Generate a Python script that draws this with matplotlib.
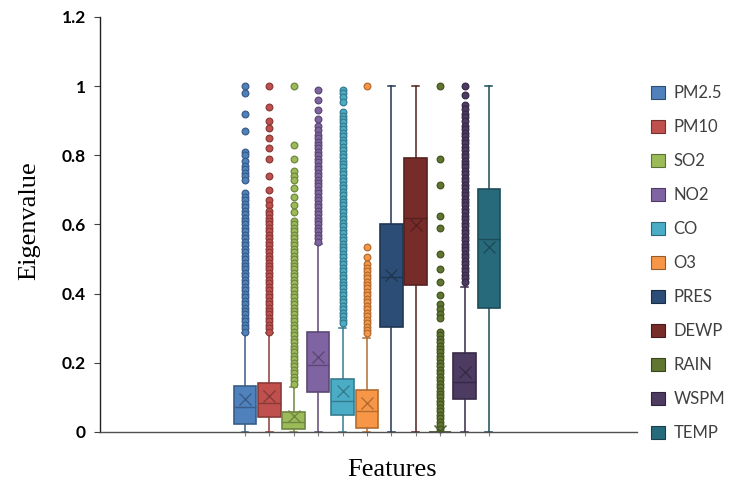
import matplotlib
matplotlib.use("Agg")
import matplotlib.pyplot as plt
import matplotlib.colors as mcolors
from matplotlib.patches import Patch

# --- Data ---
labels = ["PM2.5", "PM10", "SO2", "NO2", "CO", "O3",
          "PRES", "DEWP", "RAIN", "WSPM", "TEMP"]
colors = ["#4F81BD", "#C0504D", "#9BBB59", "#8064A2", "#4BACC6", "#F79646",
          "#2C4D75", "#772C2A", "#5F7530", "#4D3B62", "#276A7C"]

q1 = [0.023, 0.042, 0.009, 0.115, 0.049, 0.011, 0.303, 0.425, 0.000, 0.095, 0.359]
medians = [0.072, 0.085, 0.030, 0.194, 0.091, 0.062, 0.447, 0.618, 0.000, 0.146, 0.557]
q3 = [0.134, 0.141, 0.057, 0.288, 0.152, 0.121, 0.601, 0.791, 0.000, 0.229, 0.703]
means = [0.095, 0.105, 0.045, 0.216, 0.119, 0.083, 0.454, 0.599, 0.004, 0.174, 0.536]
whis_lo = [0.0, 0.0, 0.0, 0.0, 0.0, 0.0, 0.0, 0.0, 0.0, 0.0, 0.0]
whis_hi = [0.286, 0.286, 0.130, 0.545, 0.300, 0.272, 1.0, 1.0, 0.0, 0.420, 1.0]

pm25_out = [1.00, 0.98, 0.92, 0.87, 0.81, 0.80, 0.785, 0.77, 0.76, 0.75, 0.74, 0.73,
            0.69, 0.68, 0.67, 0.66, 0.65, 0.64, 0.63, 0.62, 0.61, 0.60,
            0.59, 0.58, 0.57, 0.56, 0.55, 0.54, 0.53, 0.52, 0.51, 0.50,
            0.49, 0.48, 0.47, 0.46, 0.45, 0.44, 0.43, 0.42, 0.41, 0.40,
            0.39, 0.38, 0.37, 0.36, 0.35, 0.34, 0.33, 0.32, 0.31, 0.30, 0.29]
pm10_out = [1.00, 0.94, 0.90, 0.88, 0.85, 0.82, 0.79, 0.74, 0.70, 0.67, 0.655,
            0.64, 0.63, 0.62, 0.61, 0.60, 0.59, 0.58, 0.57, 0.56, 0.55,
            0.54, 0.53, 0.52, 0.51, 0.50, 0.49, 0.48, 0.47, 0.46, 0.45,
            0.44, 0.43, 0.42, 0.41, 0.40, 0.39, 0.38, 0.37, 0.36, 0.35,
            0.34, 0.33, 0.32, 0.31, 0.30, 0.29]
so2_out = [1.00, 0.83, 0.79, 0.755, 0.74, 0.728, 0.705, 0.68, 0.655, 0.635,
           0.61, 0.60, 0.59, 0.58, 0.57, 0.56, 0.55, 0.54, 0.53, 0.52, 0.51,
           0.50, 0.49, 0.48, 0.47, 0.46, 0.45, 0.44, 0.43, 0.42, 0.41,
           0.40, 0.39, 0.38, 0.37, 0.36, 0.35, 0.34, 0.33, 0.32, 0.31,
           0.30, 0.29, 0.28, 0.27, 0.26, 0.25, 0.24, 0.23, 0.22, 0.21,
           0.20, 0.19, 0.18, 0.17, 0.16, 0.15, 0.14]
no2_out = [0.99, 0.96, 0.93, 0.905, 0.885, 0.873,
           0.86, 0.85, 0.84, 0.83, 0.82, 0.81, 0.80, 0.79, 0.78, 0.77,
           0.76, 0.75, 0.74, 0.73, 0.72, 0.71, 0.70, 0.69, 0.68, 0.67,
           0.66, 0.65, 0.64, 0.63, 0.62, 0.61, 0.60, 0.59, 0.58, 0.57,
           0.56, 0.55]
co_out = [0.99, 0.98, 0.97, 0.955,
          0.925, 0.915, 0.905, 0.895, 0.885, 0.875, 0.865, 0.855, 0.845, 0.835,
          0.825, 0.815, 0.805, 0.795, 0.785, 0.775, 0.765, 0.755, 0.745, 0.735,
          0.725, 0.715, 0.705, 0.695, 0.685, 0.675, 0.665, 0.655, 0.645, 0.635,
          0.625, 0.615, 0.605, 0.595, 0.585, 0.575, 0.565, 0.555, 0.545, 0.535,
          0.525, 0.515, 0.505, 0.495, 0.485, 0.475, 0.465, 0.455, 0.445, 0.435,
          0.425, 0.415, 0.405, 0.395, 0.385, 0.375, 0.365, 0.355, 0.345, 0.335,
          0.325, 0.315]
o3_out = [1.00, 0.535, 0.505,
          0.485, 0.475, 0.465, 0.455, 0.445, 0.435, 0.425, 0.415, 0.405, 0.395,
          0.385, 0.375, 0.365, 0.355, 0.345, 0.335, 0.325, 0.315, 0.305, 0.295,
          0.285]
pres_out = []
dewp_out = []
rain_out = [1.00, 0.79, 0.715, 0.625, 0.59, 0.515, 0.47, 0.435, 0.395, 0.37, 0.355,
            0.34, 0.33, 0.29, 0.28, 0.27, 0.26, 0.25, 0.24, 0.23, 0.22, 0.21,
            0.20, 0.19, 0.18, 0.17, 0.16, 0.15, 0.14, 0.13, 0.12, 0.11,
            0.10, 0.09, 0.08, 0.07, 0.06, 0.05, 0.04, 0.03, 0.02, 0.01]
wspm_out = [1.00, 0.975, 0.945, 0.935, 0.92, 0.91, 0.90,
            0.885, 0.875, 0.865, 0.855, 0.845, 0.835, 0.825, 0.815, 0.805,
            0.795, 0.785, 0.775, 0.765, 0.755, 0.745, 0.735, 0.725, 0.715,
            0.705, 0.695, 0.685, 0.675, 0.665, 0.655, 0.645, 0.635, 0.625,
            0.615, 0.605, 0.595, 0.585, 0.575, 0.565, 0.555, 0.545, 0.535,
            0.525, 0.515, 0.505, 0.495, 0.485, 0.475, 0.465, 0.455, 0.445, 0.435]
temp_out = []

outliers = [pm25_out, pm10_out, so2_out, no2_out, co_out, o3_out,
            pres_out, dewp_out, rain_out, wspm_out, temp_out]
yticks = [0, 0.2, 0.4, 0.6, 0.8, 1.0, 1.2]


def darken(c, f=0.72):
    r, g, b = mcolors.to_rgb(c)
    return (r * f, g * f, b * f)


fig, ax = plt.subplots(figsize=(7.34, 4.86), dpi=100)
fig.subplots_adjust(left=100 / 734, right=637 / 734, bottom=54 / 486, top=469 / 486)

stats = []
for i, name in enumerate(labels):
    stats.append(dict(label=name, q1=q1[i], med=medians[i], q3=q3[i], mean=means[i],
                      whislo=whis_lo[i], whishi=whis_hi[i], fliers=outliers[i]))

positions = list(range(1, len(labels) + 1))
bp = ax.bxp(stats, positions=positions, widths=0.92, capwidths=0.28,
            patch_artist=True, showmeans=True, showfliers=True,
            meanprops=dict(marker="x", markersize=9, markeredgewidth=1.0))

for i, c in enumerate(colors):
    dk = darken(c)
    bp["boxes"][i].set_facecolor(c)
    bp["boxes"][i].set_edgecolor(dk)
    bp["boxes"][i].set_linewidth(1.2)
    bp["boxes"][i].set_clip_on(False)
    bp["medians"][i].set_color(dk)
    bp["medians"][i].set_linewidth(1.0)
    bp["means"][i].set_markeredgecolor(dk)
    for art in bp["whiskers"][2 * i:2 * i + 2] + bp["caps"][2 * i:2 * i + 2]:
        art.set_color(dk)
        art.set_linewidth(1.1)
    fl = bp["fliers"][i]
    fl.set_marker("o")
    fl.set_markersize(4.8)
    fl.set_markerfacecolor(c)
    fl.set_markeredgecolor(dk)
    fl.set_markeredgewidth(0.9)
    fl.set_clip_on(False)

ax.set_xlim(-4.94, 17.07)
ax.set_ylim(0, 1.2)
ax.set_yticks(yticks)
ax.set_yticklabels([f"{v:g}" for v in yticks], fontfamily="Lato",
                   fontweight="bold", fontsize=12.5)
ax.set_xticks(positions)
ax.set_xticklabels([""] * len(positions))
ax.tick_params(axis="y", direction="out", length=4, width=0.8, color="#404040", pad=6)
ax.tick_params(axis="x", direction="out", length=3, width=0.8, color="#808080")

for side in ["top", "right"]:
    ax.spines[side].set_visible(False)
ax.spines["left"].set_color("#202020")
ax.spines["bottom"].set_color("#505050")
ax.spines["left"].set_linewidth(1.0)
ax.spines["bottom"].set_linewidth(1.0)

ax.set_ylabel("Eigenvalue", fontfamily="Liberation Serif", fontsize=19)
ax.yaxis.set_label_coords(-0.112, 0.51)
ax.set_xlabel("Features", fontfamily="Liberation Serif", fontsize=19)
ax.xaxis.set_label_coords(0.544, -0.065)

handles = [Patch(facecolor=c, edgecolor=darken(c, 0.6), linewidth=0.8) for c in colors]
fig.legend(handles, labels, loc="center left", bbox_to_anchor=(636 / 734, 0.459),
           frameon=False, prop=dict(family="Lato", size=12), labelcolor="#404040",
           labelspacing=1.08, handlelength=0.85, handleheight=0.85, handletextpad=0.5)

fig.savefig("out.png", dpi=100, facecolor="white")
